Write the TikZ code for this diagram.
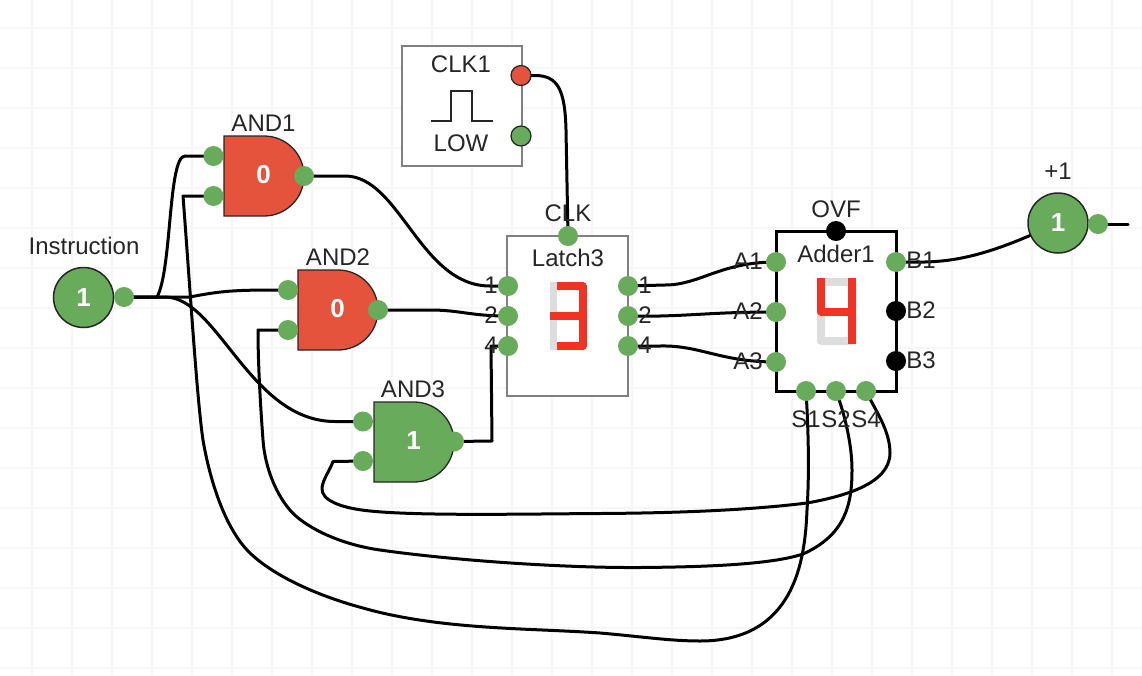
\documentclass[tikz,border=0pt]{standalone}
\usepackage{fontspec}
\setmainfont{Liberation Sans}
\pgfdeclarelayer{bg}
\pgfdeclarelayer{wires}
\pgfsetlayers{bg,wires,main}
\definecolor{okgreen}{HTML}{67AB5B}
\definecolor{badred}{HTML}{E5533D}
\definecolor{segred}{HTML}{F03322}
\definecolor{seggray}{HTML}{DDDDDD}
\definecolor{boxgray}{HTML}{808080}
\definecolor{inkdark}{HTML}{262626}
\definecolor{gridline}{HTML}{F6F6F6}
\tikzset{
  every node/.style={text=inkdark},
  gpin/.style={circle,fill=okgreen,minimum size=20pt,inner sep=0pt},
  kpin/.style={circle,fill=black,minimum size=20pt,inner sep=0pt},
  rimpin/.style={circle,draw=inkdark,line width=1.2pt,minimum size=20pt,inner sep=0pt},
  lab/.style={inner sep=0pt,font=\fontsize{24}{24}\selectfont},
  val/.style={inner sep=0pt,text=white,font=\fontsize{26}{26}\selectfont\bfseries},
  gatebody/.style={draw=inkdark,line width=1.3pt},
  wire/.style={draw=black,line width=3pt,line cap=round,line join=round},
  lampnode/.style={circle,draw=inkdark,line width=1.5pt,fill=okgreen,minimum size=60pt,inner sep=0pt,text=white,font=\fontsize{26}{26}\selectfont\bfseries},
  seg/.style={line width=7.5pt,line cap=butt,line join=round},
  chipgray/.style={draw=boxgray,fill=white,line width=2.5pt},
  chipblack/.style={draw=black,fill=white,line width=3pt}
}
\begin{document}
\begin{tikzpicture}[x=1pt,y=-1pt]
\useasboundingbox (0,0) rectangle (1142,675);
\begin{pgfonlayer}{bg}
  \fill[white] (0,0) rectangle (1142,675);
  \foreach \gx in {32,72,...,1112} \draw[gridline,line width=2pt] (\gx,0) -- (\gx,675);
  \foreach \gy in {28,68,...,668} \draw[gridline,line width=2pt] (0,\gy) -- (1142,\gy);
\end{pgfonlayer}

% Input lamp
\node[lampnode] (inst) at (83.5,297.5) {1};
\node[gpin] (instout) at (124,297) {};
\node[lab] (instlab) at (84,246) {Instruction};

% Gates
\draw[gatebody,fill=badred] (224,136) -- (264,136) arc[start angle=-90,end angle=90,radius=40] -- (224,216) -- cycle;
\draw[gatebody,fill=badred] (298,270) -- (338,270) arc[start angle=-90,end angle=90,radius=40] -- (298,350) -- cycle;
\draw[gatebody,fill=okgreen] (374,402) -- (414,402) arc[start angle=-90,end angle=90,radius=40] -- (374,482) -- cycle;
\node[val] (g1val) at (263.5,175) {0};
\node[val] (g2val) at (337.5,309) {0};
\node[val] (g3val) at (413.5,441) {1};
\node[lab] (g1lab) at (263.5,123) {AND1};
\node[lab] (g2lab) at (338,257) {AND2};
\node[lab] (g3lab) at (413,389) {AND3};
\node[gpin] (g1a) at (213.5,156) {};
\node[gpin] (g1b) at (213.5,196) {};
\node[gpin] (g1o) at (304,176) {};
\node[gpin] (g2a) at (288,290) {};
\node[gpin] (g2b) at (288,330) {};
\node[gpin] (g2o) at (378,310) {};
\node[gpin] (g3a) at (363,421.5) {};
\node[gpin] (g3b) at (363,461) {};
\node[gpin] (g3o) at (454,441.5) {};

% Clock
\draw[chipgray] (402,46) rectangle (522,166);
\node[lab] (clklab) at (461,64) {CLK1};
\node[lab] (clklow) at (461,143) {LOW};
\draw[inkdark,line width=1.4pt] (431,121) -- (451,121) -- (451,91) -- (472,91) -- (472,121) -- (493,121);
\node[rimpin,fill=badred] (clkhi) at (521,75.5) {};
\node[rimpin,fill=okgreen] (clklo) at (521,136) {};

% Latch
\draw[chipgray] (507,236) rectangle (628,396);
\node[lab] (latchtitle) at (568,258) {Latch3};
\node[lab] (latchclk) at (568,213) {CLK};
\draw[seg,seggray] (553.5,282) -- (553.5,350);
\draw[seg,segred] (557,286) -- (583,286) -- (583,346) -- (557,346);
\draw[seg,segred] (550,316) -- (587,316);
\node[gpin] (lclk) at (568,236) {};
\node[gpin] (li1) at (508,286) {};
\node[gpin] (li2) at (508,316) {};
\node[gpin] (li4) at (508,346) {};
\node[gpin] (lo1) at (628,286) {};
\node[gpin] (lo2) at (628,316) {};
\node[gpin] (lo4) at (628,346) {};
\node[lab] (lli1) at (491,285) {1};
\node[lab] (lli2) at (491,315) {2};
\node[lab] (lli4) at (491,345) {4};
\node[lab] (llo1) at (645,285) {1};
\node[lab] (llo2) at (645,315) {2};
\node[lab] (llo4) at (645,345) {4};

% Adder
\draw[chipblack] (776,231) rectangle (896,391);
\node[lab] (addlab) at (836,254) {Adder1};
\node[lab] (ovflab) at (836,209) {OVF};
\draw[seg,seggray] (821,312) -- (821,341) -- (852,341);
\draw[seg,seggray] (821,282) -- (852,282);
\draw[seg,segred] (821,278) -- (821,312) -- (856,312);
\draw[seg,segred] (852,278) -- (852,344);
\node[kpin] (ovf) at (836,231) {};
\node[gpin] (a1) at (776,262) {};
\node[gpin] (a2) at (776,312) {};
\node[gpin] (a3) at (776,362) {};
\node[gpin] (b1) at (896,262) {};
\node[kpin] (b2) at (896,311) {};
\node[kpin] (b3) at (896,361) {};
\node[gpin] (s1) at (806,391) {};
\node[gpin] (s2) at (836,391) {};
\node[gpin] (s4) at (866,391) {};
\node[lab] (la1) at (748,261) {A1};
\node[lab] (la2) at (748,311) {A2};
\node[lab] (la3) at (748,361) {A3};
\node[lab] (lb1) at (921,260) {B1};
\node[lab] (lb2) at (921,310) {B2};
\node[lab] (lb3) at (921,360) {B3};
\node[lab] (ls1) at (806,419) {S1};
\node[lab] (ls2) at (836,419) {S2};
\node[lab] (ls4) at (866,419) {S4};

% Output lamp
\node[lampnode] (plusone) at (1058,223) {1};
\node[gpin] (plusout) at (1098,224) {};
\node[lab] (pluslab) at (1058,171) {+1};
\coordinate (plusend) at (1128,224);

\begin{pgfonlayer}{wires}
  % Instruction fan-out
  \draw[wire] (instout.center) -- (157,297) .. controls (172,270) and (168,156) .. (185,156) -- (g1a.center);
  \draw[wire] (instout.center) -- (190,297) .. controls (225,290) and (240,290) .. (g2a.center);
  \draw[wire] (instout.center) -- (165,297) .. controls (218,297) and (250,421.5) .. (335,421.5) -- (g3a.center);
  % Gate outputs
  \draw[wire] (g1o.center) -- (345,176) .. controls (400,176) and (420,286) .. (490,286) -- (li1.center);
  \draw[wire] (g2o.center) -- (430,310) .. controls (460,310) and (470,316) .. (li2.center);
  \draw[wire] (g3o.center) -- (492,441) -- (491,346) -- (li4.center);
  % Clock
  \draw[wire] (clkhi.center) -- (535,75.5) .. controls (558,75.5) and (565,90) .. (566,130) -- (lclk.center);
  % Latch to adder
  \draw[wire] (lo1.center) -- (665,285) .. controls (700,285) and (720,262) .. (a1.center);
  \draw[wire] (lo2.center) -- (660,316) .. controls (700,315) and (720,312) .. (a2.center);
  \draw[wire] (lo4.center) -- (660,346) .. controls (700,345) and (720,362) .. (a3.center);
  % Adder to lamp
  \draw[wire] (b1.center) -- (925,262) .. controls (965,261) and (1000,250) .. (plusone.center);
  \draw[wire] (plusout.center) -- (plusend);
  % Feedback loops
  \draw[wire] (s4.center) .. controls (875,410) and (890,430) .. (890,453)
     .. controls (890,485) and (840,497) .. (807,503)
     .. controls (750,510) and (680,513) .. (600,513.5)
     .. controls (520,514) and (420,516) .. (370,511)
     .. controls (340,508) and (321,500) .. (322,488)
     .. controls (322.5,480) and (330,470) .. (333,461.5) -- (g3b.center);
  \draw[wire] (s2.center) .. controls (845,415) and (852,445) .. (852,470)
     .. controls (852,505) and (845,535) .. (803,554)
     .. controls (770,565) and (700,567) .. (640,567.5)
     .. controls (560,568) and (450,560) .. (380,550)
     .. controls (345,545) and (315,532) .. (297,517)
     .. controls (279,502) and (265,470) .. (263,440)
     .. controls (260,400) and (258,360) .. (258,330) -- (g2b.center);
  \draw[wire] (s1.center) .. controls (809,440) and (809,480) .. (807,510)
     .. controls (805,560) and (795,641) .. (700,641)
     .. controls (670,641) and (640,636.4) .. (600,633)
     .. controls (530,628) and (440,630) .. (363,608)
     .. controls (320,596.5) and (275,577) .. (250,553)
     .. controls (222,526) and (208,470) .. (203,440)
     .. controls (197,400) and (190,287) .. (183,196) -- (g1b.center);
\end{pgfonlayer}
\end{tikzpicture}
\end{document}
